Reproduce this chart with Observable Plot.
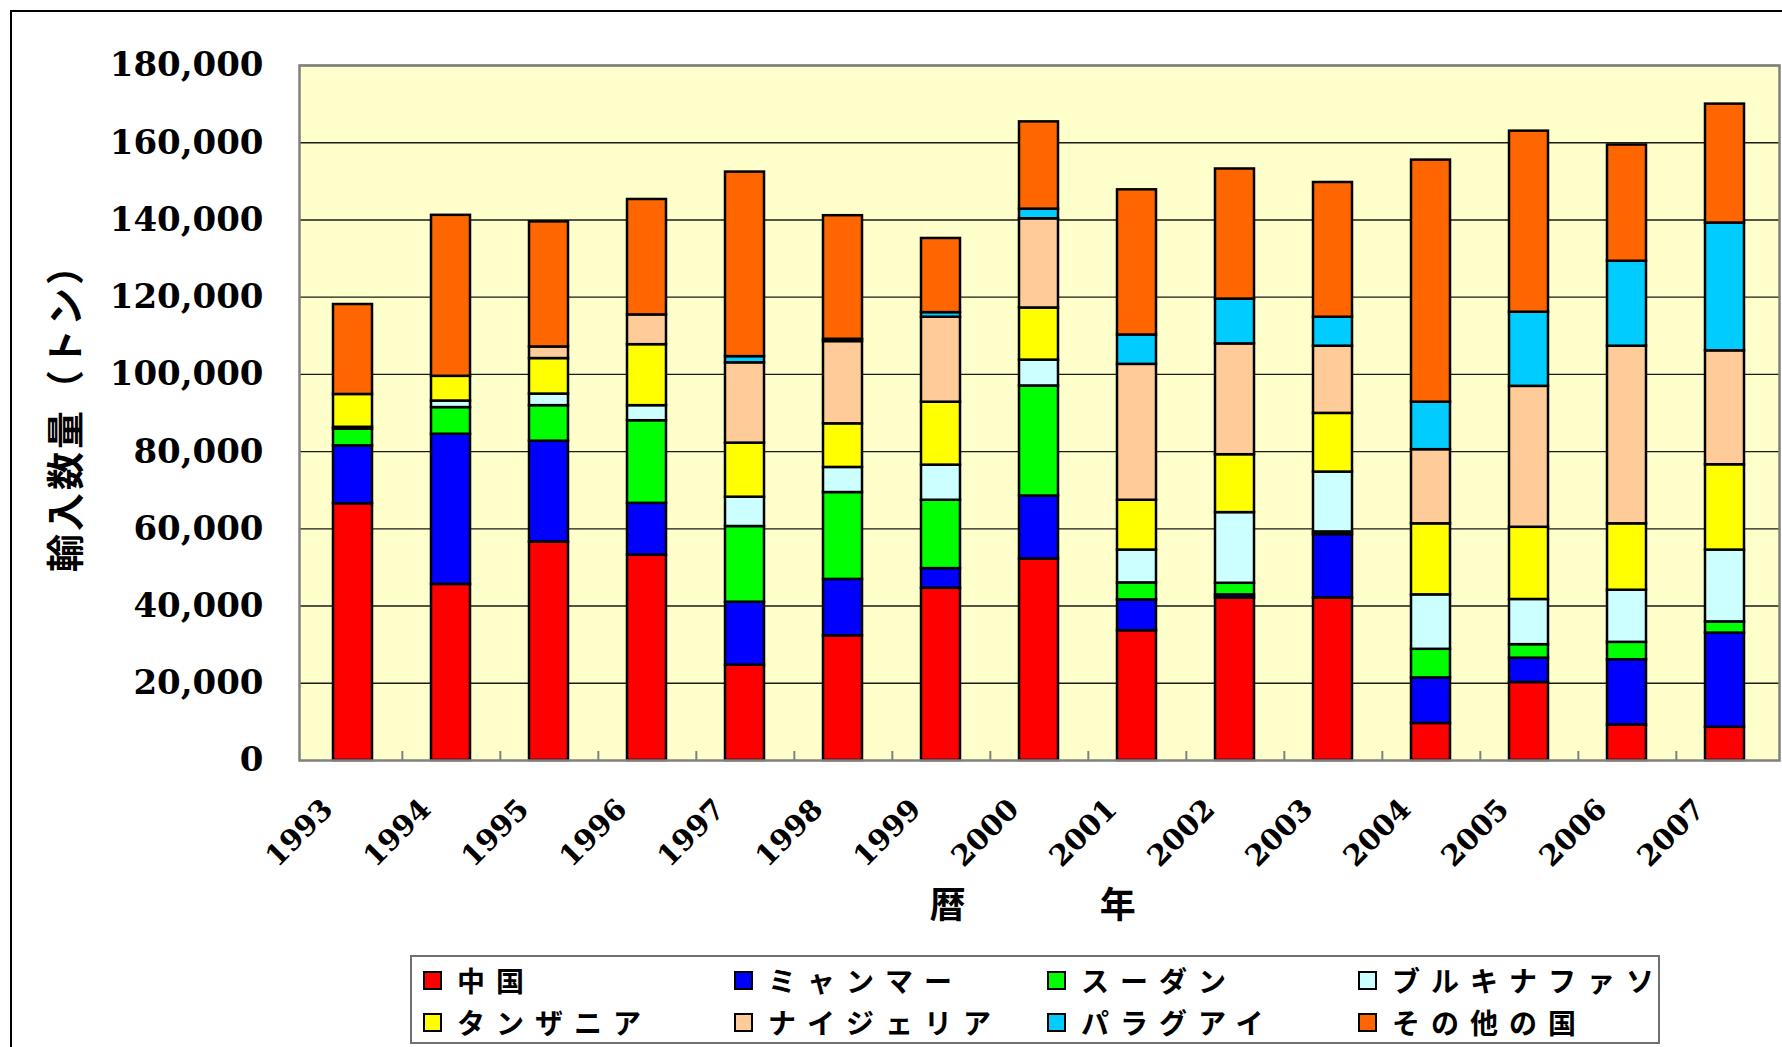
<!DOCTYPE html>
<html><head><meta charset="utf-8">
<script src="https://cdn.jsdelivr.net/npm/d3@7"></script>
<script src="https://cdn.jsdelivr.net/npm/@observablehq/plot@0.6"></script>
<style>
html,body{margin:0;padding:0;background:#fff;}
body{width:1782px;height:1047px;overflow:hidden;position:relative;font-family:"Noto Sans CJK JP","Noto Sans",sans-serif;color:#000;}
#frame{position:absolute;left:10px;top:10px;width:1800px;height:1100px;border-left:2px solid #000;border-top:2px solid #000;}
#chart{position:absolute;left:0;top:0;}
#ytitle{position:absolute;left:63px;top:408px;transform:translate(-50%,-50%) rotate(-90deg);font-size:38px;font-weight:700;white-space:nowrap;letter-spacing:3px;line-height:38px;}
#xtitle{position:absolute;left:1036px;top:884px;transform:translateX(-50%);font-size:36px;font-weight:700;white-space:pre;letter-spacing:6.5px;line-height:36px;}
#legend{position:absolute;left:410px;top:955px;width:1246px;height:85px;border:2px solid #707070;}
.item{position:absolute;display:flex;align-items:center;height:32px;}
.sw{width:15px;height:15px;border:2px solid #000;margin-right:15px;}
.lab{font-size:28px;font-weight:700;letter-spacing:11px;white-space:nowrap;line-height:32px;}
</style>
</head><body>
<div id="frame"></div>
<div id="chart"></div>
<div id="ytitle">輸入数量（トン）</div>
<div id="xtitle">暦　　　年</div>
<div id="legend"></div>
<script>
const years = ["1993","1994","1995","1996","1997","1998","1999","2000","2001","2002","2003","2004","2005","2006","2007"];
const countries = ["中国","ミャンマー","スーダン","ブルキナファソ","タンザニア","ナイジェリア","パラグアイ","その他の国"];
const colors = ["#FF0000","#0000FF","#00FF00","#CCFFFF","#FFFF00","#FFCC99","#00CCFF","#FF6600"];

const china    = [66500,45600,56600,53200,24700,32300,44600,52200,33600,42100,42100, 9600,20200, 9200, 8600];
const myanmar  = [15000,38900,26100,13400,16300,14600, 5100,16300, 8000,  800,16400,11800, 6300,16900,24400];
const sudan    = [ 4300, 6900, 9200,21400,19600,22500,17700,28500, 4400, 3000,  700, 7400, 3500, 4500, 2900];
const burkina  = [  500, 1700, 3000, 3900, 7600, 6500, 9100, 6700, 8500,18300,15500,14100,11700,13500,18600];
const tanzania = [ 8500, 6400, 9200,15800,14000,11300,16300,13500,12900,15000,15200,18400,18700,17200,22100];
const nigeria  = [    0,    0, 3000, 7700,20800,21300,22000,23100,35200,28700,17400,19200,36500,46000,29500];
const paraguay = [    0,    0,    0,    0, 1600,  600, 1200, 2500, 7600,11600, 7500,12300,19200,22000,33100];
const other    = [23300,41700,32400,29900,47800,32000,19200,22600,37600,33700,34900,62700,46900,30100,30800];

const yTicks = [0,20000,40000,60000,80000,100000,120000,140000,160000,180000];

const series = [china, myanmar, sudan, burkina, tanzania, nigeria, paraguay, other];
const data = [];
years.forEach((yr, i) => countries.forEach((c, j) => {
  if (series[j][i] > 0) data.push({year: yr, country: c, value: series[j][i]});
}));

const W = 1782, H = 940, ml = 299, mr = 3, mt = 65, mb = 180;
const step = (W - ml - mr) / years.length;

const chart = Plot.plot({
  width: W, height: H,
  marginLeft: ml, marginRight: mr, marginTop: mt, marginBottom: mb,
  style: {background: "transparent", overflow: "visible"},
  x: {domain: years, paddingInner: 0.6, paddingOuter: 0.3, axis: null},
  y: {domain: [0, 180000]},
  color: {domain: countries, range: colors},
  marks: [
    Plot.frame({fill: "#FFFFCC", stroke: null}),
    Plot.ruleY(yTicks.slice(1), {stroke: "#1a1a1a", strokeWidth: 1.4}),
    Plot.ruleX(years.slice(0, -1), {x: d => d, dx: step / 2, insetTop: (H - mt - mb) - 9, stroke: "#808080", strokeWidth: 2}),
    Plot.barY(data, {x: "year", y: "value", fill: "country", order: countries, stroke: "#000", strokeWidth: 2.5}),
    Plot.frame({stroke: "#808080", strokeWidth: 2.5}),
    Plot.axisY(yTicks, {tickSize: 0, tickPadding: 36, tickFormat: d3.format(","), fontSize: 34, fontWeight: "bold", fontFamily: "DejaVu Serif", fill: "#000", label: null}),
    Plot.text(years, {x: d => d, frameAnchor: "bottom", rotate: -45, textAnchor: "end", lineAnchor: "top", dx: -33, dy: 36, fontSize: 29, fontWeight: "bold", fontFamily: "DejaVu Serif", fill: "#000"})
  ]
});
document.getElementById("chart").appendChild(chart);

const legend = document.getElementById("legend");
const colLeft = [11, 322, 635, 946];
const rowTop = [7, 49];
countries.forEach((c, j) => {
  const it = document.createElement("div");
  it.className = "item";
  it.style.left = colLeft[j % 4] + "px";
  it.style.top = rowTop[Math.floor(j / 4)] + "px";
  const sw = document.createElement("div");
  sw.className = "sw";
  sw.style.background = colors[j];
  const lab = document.createElement("span");
  lab.className = "lab";
  lab.textContent = c;
  it.appendChild(sw); it.appendChild(lab);
  legend.appendChild(it);
});
</script>
</body></html>
